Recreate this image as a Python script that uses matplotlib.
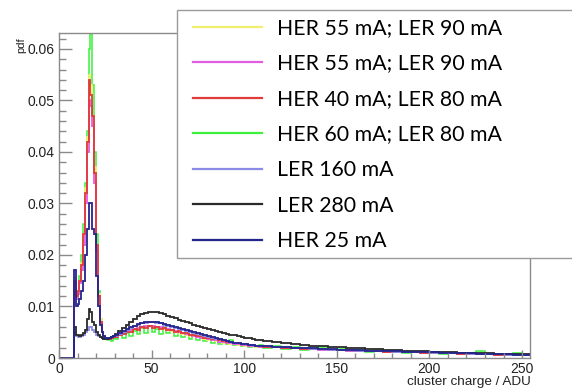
import numpy as np
import matplotlib
matplotlib.use("Agg")
import matplotlib.pyplot as plt
from matplotlib.patches import Rectangle
from matplotlib.ticker import MultipleLocator, FixedLocator

plt.rcParams["font.family"] = ["Liberation Sans", "DejaVu Sans"]

# bin edges in ADU: one empty bin below threshold, fine bins at the peak, coarser further out
edges = np.r_[0, np.arange(8, 30), np.arange(30, 110, 2), np.arange(110, 256, 5)]

# pdf values per bin, in units of 1e-3
her55a = [0,
    15.5, 12.5, 13, 15, 18.5, 24, 33, 43, 55, 53, 47, 37, 22, 12.5, 7.5, 5, 4, 3.8, 3.6, 3.7, 3.8, 4.0,
    4.0, 4.4, 4.8, 5.1, 5.4, 5.6, 5.8, 6.0, 6.1, 6.2, 6.1, 6.0, 5.9, 5.7, 5.5, 5.3, 5.1, 4.9, 4.7, 4.5,
    4.3, 4.2, 4.0, 3.8, 3.7, 3.5, 3.4, 3.3, 3.1, 3.0, 2.9, 2.8, 2.7, 2.6, 2.5, 2.4, 2.3, 2.3, 2.2, 2.1,
    2.2, 2.1, 2.0, 1.9, 1.8, 1.75, 1.7, 1.6, 1.55, 1.5, 1.4, 1.35, 1.3, 1.25, 1.2,
    1.15, 1.1, 1.05, 1.0, 0.95, 0.9, 0.85, 0.8, 0.75, 0.7, 0.65, 0.6, 0.55, 0.5]
her55b = [0,
    15, 11.5, 12.5, 14.5, 17, 22, 30, 40, 50, 49, 45, 34, 21, 12, 7, 5, 4, 3.7, 3.6, 3.7, 3.8, 4.0,
    4.1, 4.5, 4.9, 5.2, 5.5, 5.7, 5.9, 6.1, 6.2, 6.3, 6.2, 6.1, 6.0, 5.8, 5.6, 5.4, 5.2, 5.0, 4.8, 4.6,
    4.4, 4.3, 4.1, 3.9, 3.8, 3.6, 3.5, 3.4, 3.2, 3.1, 3.0, 2.9, 2.8, 2.7, 2.6, 2.5, 2.4, 2.4, 2.3, 2.2,
    2.15, 2.05, 1.95, 1.85, 1.8, 1.7, 1.65, 1.6, 1.5, 1.45, 1.4, 1.35, 1.3, 1.25, 1.2,
    1.15, 1.1, 1.05, 1.0, 0.95, 0.9, 0.85, 0.8, 0.75, 0.7, 0.65, 0.6, 0.55, 0.5]
her40 = [0,
    15, 12, 13, 15, 18, 24, 32, 42, 54, 51, 47, 36, 22, 12, 7, 5, 4, 3.7, 3.6, 3.7, 3.8, 4.0,
    4.0, 4.4, 4.7, 5.1, 5.0, 5.6, 5.4, 6.0, 5.8, 6.2, 5.9, 6.1, 5.7, 5.9, 5.4, 5.5, 5.1, 5.2, 4.8, 4.9,
    4.5, 4.5, 4.2, 4.2, 3.9, 3.9, 3.6, 3.6, 3.4, 3.3, 3.1, 3.1, 2.9, 2.9, 2.7, 2.7, 2.5, 2.5, 2.3, 2.3,
    2.2, 2.1, 2.0, 1.9, 1.8, 1.75, 1.7, 1.6, 1.55, 1.5, 1.4, 1.35, 1.3, 1.25, 1.2,
    1.15, 1.1, 1.05, 1.0, 0.95, 0.9, 0.85, 0.8, 0.75, 0.7, 0.65, 0.6, 0.55, 0.5]
her60 = [0,
    15, 12, 13, 16, 20, 26, 34, 44, 60, 63, 53, 40, 24, 13, 7.5, 5, 4.2, 3.8, 3.4, 3.6, 3.3, 3.8,
    3.6, 4.4, 3.9, 4.8, 4.2, 5.3, 4.6, 5.8, 4.9, 6.2, 5.0, 5.7, 4.7, 6.0, 4.8, 5.2, 4.3, 5.1, 4.0, 4.6,
    3.7, 4.4, 3.5, 4.0, 3.3, 3.8, 3.0, 3.5, 2.8, 3.3, 2.7, 3.4, 2.5, 2.9, 2.4, 2.8, 2.2, 2.6, 2.1, 2.5,
    2.0, 2.4, 1.8, 2.1, 1.6, 1.9, 2.2, 1.5, 1.8, 1.3, 1.6, 1.2, 1.5, 1.1, 1.4,
    1.0, 1.2, 0.9, 1.1, 0.8, 1.0, 0.7, 0.9, 1.3, 0.7, 0.8, 0.6, 1.0, 0.6]
ler160 = [0,
    5, 4.2, 4.0, 4.0, 4.2, 4.5, 5, 5.5, 6.0, 6.0, 5.5, 5, 4.5, 4.2, 4.0, 3.8, 3.7, 3.7, 3.7, 3.8, 4.0, 4.2,
    4.3, 4.7, 5.1, 5.5, 5.9, 6.2, 6.5, 6.7, 6.8, 6.9, 6.9, 6.8, 6.7, 6.5, 6.3, 6.1, 5.9, 5.7, 5.5, 5.3,
    5.1, 4.9, 4.7, 4.5, 4.3, 4.1, 3.9, 3.7, 3.6, 3.4, 3.3, 3.1, 3.0, 2.9, 2.8, 2.7, 2.6, 2.5, 2.4, 2.3,
    2.25, 2.15, 2.05, 1.95, 1.85, 1.8, 1.75, 1.65, 1.6, 1.55, 1.45, 1.4, 1.35, 1.3, 1.25,
    1.2, 1.15, 1.1, 1.05, 1.0, 0.95, 0.9, 0.85, 0.8, 0.75, 0.7, 0.65, 0.6, 0.55]
ler280 = [0,
    6, 4.5, 4.5, 4.3, 4.5, 4.8, 5.5, 7.5, 9.5, 9.0, 7, 6.5, 5, 4.5, 4, 3.8, 3.7, 3.7, 3.7, 3.8, 4.0, 4.2,
    4.6, 5.2, 5.8, 6.4, 7.0, 7.6, 8.1, 8.5, 8.8, 9.0, 9.0, 8.9, 8.7, 8.5, 8.2, 7.9, 7.7, 7.4, 7.2, 6.9,
    6.7, 6.5, 6.2, 6.0, 5.8, 5.6, 5.4, 5.2, 5.0, 4.8, 4.6, 4.5, 4.4, 4.2, 4.0, 3.9, 3.8, 3.6, 3.5, 3.4,
    3.3, 3.1, 2.9, 2.7, 2.55, 2.4, 2.3, 2.2, 2.1, 2.0, 1.9, 1.8, 1.7, 1.6, 1.5,
    1.45, 1.4, 1.3, 1.25, 1.2, 1.1, 1.05, 1.0, 0.95, 0.9, 0.85, 0.8, 0.75, 0.7]
her25 = [0,
    17, 10, 10.5, 11.5, 13, 15, 20, 25, 30, 30, 25, 24, 16, 10, 6.5, 5, 4.2, 3.9, 3.8, 3.9, 4.0, 4.2,
    4.4, 4.8, 5.2, 5.6, 6.0, 6.3, 6.6, 6.8, 6.9, 7.0, 7.0, 6.9, 6.8, 6.6, 6.4, 6.2, 6.0, 5.8, 5.6, 5.4,
    5.2, 5.0, 4.8, 4.6, 4.4, 4.2, 4.0, 3.8, 3.6, 3.5, 3.3, 3.2, 3.0, 2.9, 2.8, 2.7, 2.6, 2.5, 2.4, 2.35,
    2.3, 2.2, 2.1, 2.0, 1.9, 1.85, 1.8, 1.7, 1.65, 1.6, 1.5, 1.45, 1.4, 1.35, 1.3,
    1.25, 1.2, 1.15, 1.1, 1.05, 1.0, 0.95, 0.9, 0.85, 0.8, 0.75, 0.7, 0.65, 0.6]

labels = ["HER 55 mA; LER 90 mA", "HER 55 mA; LER 90 mA", "HER 40 mA; LER 80 mA",
          "HER 60 mA; LER 80 mA", "LER 160 mA", "LER 280 mA", "HER 25 mA"]
series = [her55a, her55b, her40, her60, ler160, ler280, her25]
colors = ["#f2ee6e", "#e05ce0", "#e03a3a", "#3cf03c", "#8c8ce6", "#2a2a2a", "#24248c"]
draw_order = [3, 0, 1, 2, 4, 5, 6]

fig = plt.figure(figsize=(5.72, 3.88), dpi=100)
ax = fig.add_axes([59/572, 1 - 358/388, (530 - 59)/572, (358 - 33)/388])

handles = {}
for i in draw_order:
    h = ax.stairs(np.array(series[i]) * 1e-3, edges, baseline=None,
                  color=colors[i], lw=1.3 if i != 3 else 1.1)
    handles[i] = h

ax.set_xlim(0, 254.3)
ax.set_ylim(0, 0.0631)

gray = "#8a8a8a"
for s in ax.spines.values():
    s.set_color(gray)
    s.set_linewidth(1.0)

ax.yaxis.set_major_locator(FixedLocator([0, 0.01, 0.02, 0.03, 0.04, 0.05, 0.06]))
ax.yaxis.set_minor_locator(MultipleLocator(0.002))
ax.set_yticklabels(["0", "0.01", "0.02", "0.03", "0.04", "0.05", "0.06"])
ax.xaxis.set_major_locator(MultipleLocator(50))
ax.xaxis.set_minor_locator(MultipleLocator(10))

ax.tick_params(axis="y", which="major", direction="in", length=9, width=1, color=gray, pad=3,
               labelsize=10, labelcolor="#222222")
ax.tick_params(axis="y", which="minor", direction="in", length=5, width=1, color=gray)
ax.tick_params(axis="x", which="major", direction="in", length=6, width=1, color=gray, pad=3,
               labelsize=10, labelcolor="#222222")
ax.tick_params(axis="x", which="minor", direction="in", length=3.5, width=1, color=gray)

fig.text(531/572, 1 - 382/388, "cluster charge / ADU", ha="right", va="center",
         fontsize=9.7, color="#222222")
fig.text(21/572, 1 - 37/388, "pdf", rotation=90, ha="center", va="top",
         fontsize=8, color="#222222")

# legend box (extends past the right edge of the picture)
box = Rectangle((177/572, 1 - 258/388), (580 - 177)/572, (258 - 10)/388,
                transform=fig.transFigure, facecolor="white", edgecolor="#9a9a9a",
                linewidth=1.0, zorder=4)
fig.add_artist(box)

leg = fig.legend([handles[i] for i in range(7)], labels,
                 loc="upper left", bbox_to_anchor=(193/572, 1 - 18/388),
                 prop={"family": "Lato", "size": 15.3}, frameon=False,
                 handlelength=3.25, handletextpad=0.7, labelspacing=0.73,
                 borderpad=0, borderaxespad=0)
leg.set_zorder(5)
for ln in leg.get_lines():
    ln.set_linewidth(1.6)

fig.savefig("out.png", dpi=100)
